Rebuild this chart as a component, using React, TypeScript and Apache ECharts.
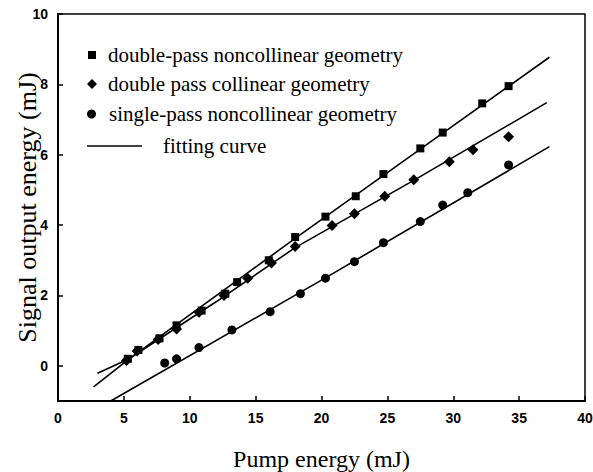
import React, { useEffect, useRef } from "react";
import * as echarts from "echarts";

// ---- data ----
const xTickValues = [0, 5, 10, 15, 20, 25, 30, 35, 40];
const yTickValues = [0, 2, 4, 6, 8, 10];

const seriesNames = [
  "double-pass noncollinear geometry",
  "double pass collinear geometry",
  "single-pass noncollinear geometry",
];
const fitName = "fitting curve";

// double-pass noncollinear geometry (squares)
const doublePassNoncollinear = [
  [5.3, 0.2], [6.1, 0.45], [7.7, 0.78], [9.0, 1.15], [10.9, 1.57], [12.7, 2.05],
  [13.6, 2.38], [16.0, 3.0], [18.0, 3.66], [20.3, 4.24], [22.6, 4.82], [24.7, 5.45],
  [27.5, 6.18], [29.2, 6.63], [32.2, 7.46], [34.2, 7.95],
];
// double pass collinear geometry (diamonds)
const doublePassCollinear = [
  [5.2, 0.15], [6.0, 0.42], [7.6, 0.75], [9.0, 1.05], [10.7, 1.52], [12.6, 2.0],
  [14.4, 2.49], [16.2, 2.92], [18.0, 3.39], [20.8, 3.99], [22.5, 4.32], [24.8, 4.82],
  [27.0, 5.29], [29.7, 5.8], [31.5, 6.14], [34.2, 6.51],
];
// single-pass noncollinear geometry (circles)
const singlePassNoncollinear = [
  [8.1, 0.08], [9.0, 0.2], [10.7, 0.52], [13.2, 1.02], [16.1, 1.54], [18.4, 2.05],
  [20.3, 2.49], [22.5, 2.96], [24.7, 3.5], [27.5, 4.1], [29.2, 4.57], [31.1, 4.92],
  [34.2, 5.71],
];

// fitting curves
const fitDoublePassNoncollinear = [[2.7, -0.6], [5.4, 0.2], [18.0, 3.62], [27.5, 6.16], [37.3, 8.77]];
const fitDoublePassCollinear = [[3.0, -0.21], [5.4, 0.2], [12.0, 1.82], [18.0, 3.36], [27.0, 5.27], [37.1, 7.48]];
const fitSinglePassNoncollinear = [[4.0, -1.0], [20.3, 2.5], [37.3, 6.23]];

const serif = "'Liberation Serif', 'Times New Roman', serif";
const sans = "'Liberation Sans', Arial, sans-serif";

export default function App() {
  const ref = useRef<HTMLDivElement>(null);

  useEffect(() => {
    if (!ref.current) return;
    const chart = echarts.init(ref.current, null, { renderer: "svg" });

    const legendText = (pad: number) => ({
      fontFamily: serif,
      fontSize: 21,
      color: "#000",
      lineHeight: 22,
      padding: [0, 0, 0, pad],
    });

    const lineStyle = { color: "#000", width: 1.6 };

    chart.setOption({
      animation: false,
      backgroundColor: "#fff",
      grid: {
        left: 58,
        right: 8,
        top: 14,
        bottom: 71,
        show: true,
        borderColor: "#000",
        borderWidth: 1.5,
        backgroundColor: "transparent",
        outerBoundsMode: "none",
      },
      legend: [
        {
          data: [seriesNames[0]], left: 88, top: 44, padding: 0, orient: "vertical",
          itemWidth: 8, itemHeight: 8, textStyle: legendText(7), selectedMode: false,
        },
        {
          data: [seriesNames[1]], left: 87, top: 73, padding: 0, orient: "vertical",
          itemWidth: 10, itemHeight: 10, textStyle: legendText(6), selectedMode: false,
        },
        {
          data: [seriesNames[2]], left: 87, top: 103, padding: 0, orient: "vertical",
          itemWidth: 9, itemHeight: 9, textStyle: legendText(8), selectedMode: false,
        },
        {
          data: [{ name: fitName, icon: "rect" }], left: 87, top: 135, padding: 0, orient: "vertical",
          itemWidth: 55, itemHeight: 1.6, textStyle: legendText(16), selectedMode: false,
          itemStyle: { color: "#000" },
        },
      ],
      xAxis: {
        type: "value",
        min: 0,
        max: 40,
        interval: 5,
        name: "Pump energy (mJ)",
        nameLocation: "middle",
        nameGap: 46,
        nameMoveOverlap: false,
        nameTextStyle: { fontFamily: serif, fontSize: 24, color: "#000" },
        axisLine: { show: true, onZero: false, lineStyle: { color: "#000", width: 2 } },
        axisTick: { show: true, inside: true, length: 5, lineStyle: { color: "#000", width: 1.5 } },
        axisLabel: {
          margin: 10,
          fontFamily: sans,
          fontWeight: "bold",
          fontSize: 14,
          color: "#000",
          customValues: xTickValues,
        },
        splitLine: { show: false },
      },
      yAxis: {
        type: "value",
        min: -1,
        max: 10,
        interval: 1,
        name: "Signal output energy (mJ)",
        nameLocation: "middle",
        nameRotate: 90,
        nameGap: 18,
        nameMoveOverlap: false,
        nameTextStyle: { fontFamily: serif, fontSize: 26, color: "#000" },
        axisLine: { show: true, onZero: false, lineStyle: { color: "#000", width: 2 } },
        axisTick: {
          show: true, inside: true, length: 5,
          lineStyle: { color: "#000", width: 1.5 },
          customValues: yTickValues,
        },
        axisLabel: {
          margin: 10,
          fontFamily: sans,
          fontWeight: "bold",
          fontSize: 14,
          color: "#000",
          customValues: yTickValues,
        },
        splitLine: { show: false },
      },
      series: [
        {
          name: fitName, type: "line", data: fitDoublePassNoncollinear, symbol: "none",
          showSymbol: false, lineStyle, itemStyle: { color: "#000" }, z: 1,
        },
        {
          name: fitName, type: "line", data: fitDoublePassCollinear, symbol: "none",
          showSymbol: false, lineStyle, itemStyle: { color: "#000" }, z: 1,
        },
        {
          name: fitName, type: "line", data: fitSinglePassNoncollinear, symbol: "none",
          showSymbol: false, lineStyle, itemStyle: { color: "#000" }, z: 1,
        },
        {
          name: seriesNames[0], type: "scatter", data: doublePassNoncollinear,
          symbol: "rect", symbolSize: 8, itemStyle: { color: "#000", opacity: 1 }, z: 3,
        },
        {
          name: seriesNames[1], type: "scatter", data: doublePassCollinear,
          symbol: "diamond", symbolSize: 11, itemStyle: { color: "#000", opacity: 1 }, z: 3,
        },
        {
          name: seriesNames[2], type: "scatter", data: singlePassNoncollinear,
          symbol: "circle", symbolSize: 9, itemStyle: { color: "#000", opacity: 1 }, z: 3,
        },
      ],
    });

    return () => chart.dispose();
  }, []);

  return (
    <div
      ref={ref}
      style={{ position: "fixed", left: 0, top: 0, width: 593, height: 472, background: "#fff" }}
    />
  );
}
